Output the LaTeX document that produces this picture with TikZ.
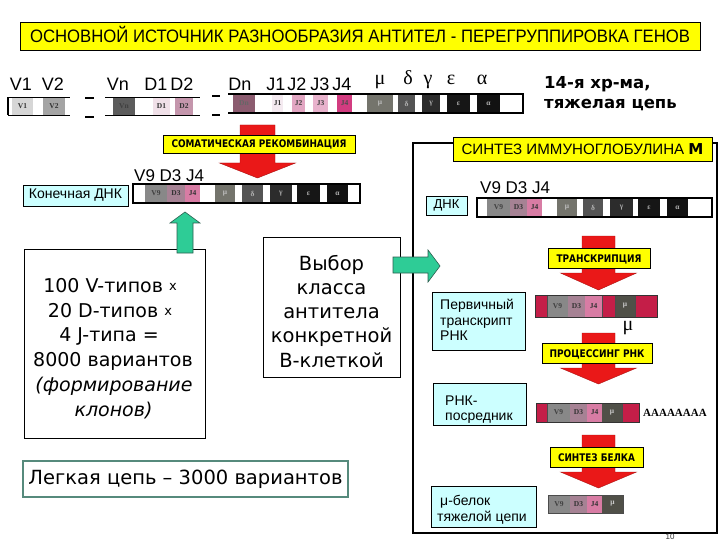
\documentclass[tikz,border=0pt]{standalone}
\usepackage{fontspec}
\usepackage{graphicx}
\setmainfont{Liberation Sans}
\newfontfamily\serifgr{Liberation Serif}
\newfontfamily\dvs{DejaVu Sans}
\definecolor{ylw}{RGB}{255,255,0}
\definecolor{cyanbox}{RGB}{204,255,255}
\definecolor{redar}{RGB}{234,24,24}
\definecolor{rededge}{RGB}{170,16,16}
\definecolor{mint}{RGB}{46,204,150}
\definecolor{mintedge}{RGB}{44,96,80}
\definecolor{crim}{RGB}{196,30,72}
\definecolor{tealb}{RGB}{86,138,124}
\definecolor{cV1}{RGB}{214,214,214}
\definecolor{cV2}{RGB}{164,164,164}
\definecolor{cVn}{RGB}{92,92,92}
\definecolor{cD1}{RGB}{240,224,232}
\definecolor{cD2}{RGB}{196,150,172}
\definecolor{cDn}{RGB}{140,92,112}
\definecolor{cJ1}{RGB}{244,234,240}
\definecolor{cJ2}{RGB}{226,166,194}
\definecolor{cJ3}{RGB}{232,178,204}
\definecolor{cJ4}{RGB}{210,60,128}
\definecolor{cmu}{RGB}{116,116,108}
\definecolor{cdel}{RGB}{84,84,84}
\definecolor{cgam}{RGB}{44,44,44}
\definecolor{ceps}{RGB}{22,22,22}
\definecolor{calp}{RGB}{18,18,18}
\definecolor{cV9}{RGB}{136,136,136}
\definecolor{cD3}{RGB}{166,130,148}
\definecolor{cJ4b}{RGB}{216,124,164}
\definecolor{cmud}{RGB}{80,80,72}
\newcommand\gseg[8]{%
  \fill[#6] (#2,#4) rectangle (#3,#5);
  \node[seglbl,text=#7] (#1) at ({(#2+#3)/2},{(#4+#5)/2}) {#8};}
\newcommand\redarr[6]{%
  \draw[redarrow] (#1-#2,#3) -- (#1+#2,#3) -- (#1+#2,#4) -- (#1+#6,#4)
    -- (#1,#5) -- (#1-#6,#4) -- (#1-#2,#4) -- cycle;}
\begin{document}
\begin{tikzpicture}[x=1pt,y=-1pt,
  every node/.style={inner sep=0pt},
  ybox/.style={draw=black, fill=ylw, line width=0.7pt},
  cbox/.style={draw=black, fill=cyanbox, line width=0.6pt},
  wbox/.style={draw=black, fill=white, line width=0.8pt},
  redarrow/.style={fill=redar, draw=rededge, line width=0.4pt},
  greenarrow/.style={fill=mint, draw=mintedge, line width=0.6pt},
  seglbl/.style={font=\serifgr\bfseries\fontsize{7.5}{7.5}\selectfont},
  stripline/.style={line width=1.1pt, black},
  atbase/.style={anchor=base},
  genelbl/.style={anchor=base, font=\fontsize{18}{18}\selectfont},
  greek/.style={anchor=base, font=\serifgr\fontsize{20}{20}\selectfont},
  bigtxt/.style={anchor=base, font=\dvs\fontsize{19}{19}\selectfont},
  bigit/.style={anchor=base, font=\dvs\itshape\fontsize{19}{19}\selectfont},
  vybtxt/.style={anchor=base, font=\dvs\fontsize{19.5}{19.5}\selectfont},
  midtxt/.style={anchor=base west, font=\fontsize{14}{14}\selectfont},
  boldlbl/.style={anchor=base, font=\dvs\bfseries\fontsize{10.5}{10.5}\selectfont},
]
\fill[white] (0,0) rectangle (720,540);
\useasboundingbox (0,0) rectangle (720,540);

% ---------- title ----------
\node[ybox, minimum width=680pt, minimum height=28pt] (titlebox) at (360,36) {};
\node[atbase] (title) at (360,42.5) {\resizebox{660pt}{\height}{\fontsize{18}{18}\selectfont ОСНОВНОЙ ИСТОЧНИК РАЗНООБРАЗИЯ АНТИТЕЛ - ПЕРЕГРУППИРОВКА ГЕНОВ}};

% ---------- top gene labels ----------
\node[genelbl] (lV1) at (21,91) {V1};
\node[genelbl] (lV2) at (53,91) {V2};
\node[genelbl] (lVn) at (118,91) {Vn};
\node[genelbl] (lD1) at (156,91) {D1};
\node[genelbl] (lD2) at (182,91) {D2};
\node[genelbl] (lDn) at (240,91) {Dn};
\node[genelbl] (lJ1) at (276,91) {J1};
\node[genelbl] (lJ2) at (297,91) {J2};
\node[genelbl] (lJ3) at (320,91) {J3};
\node[genelbl] (lJ4) at (342,91) {J4};
\node[greek] (gmu) at (380,85) {μ};
\node[greek] (gdel) at (408,85) {δ};
\node[greek] (ggam) at (428,85) {γ};
\node[greek] (geps) at (451,85) {ε};
\node[greek] (galp) at (482,85) {α};

% ---------- top strip ----------
\gseg{tV1}{12}{33}{97.5}{115.5}{cV1}{black!80}{V1}
\gseg{tV2}{43}{65}{97.5}{115.5}{cV2}{black!80}{V2}
\draw[stripline] (8,97.5) -- (70,97.5) (8,115.5) -- (70,115.5) (8,97.5) -- (8,115.5);
\draw[stripline] (85,98) -- (94,98) (85,117) -- (94,117);
\gseg{tVn}{113}{135}{97.5}{115.5}{cVn}{black!75}{Vn}
\gseg{tD1}{153}{170}{97.5}{115.5}{cD1}{black!80}{D1}
\gseg{tD2}{175}{193}{97.5}{115.5}{cD2}{black!80}{D2}
\draw[stripline] (105,97.5) -- (200,97.5) (105,115.5) -- (200,115.5);
\draw[stripline] (212,96) -- (220,96) (212,115) -- (220,115);
\gseg{tDn}{233}{255}{94}{113}{cDn}{black!60}{Dn}
\gseg{tJ1}{272}{283}{94}{113}{cJ1}{black!80}{J1}
\gseg{tJ2}{292}{305}{94}{113}{cJ2}{black!75}{J2}
\gseg{tJ3}{313}{328}{94}{113}{cJ3}{black!75}{J3}
\gseg{tJ4}{337}{352}{94}{113}{cJ4}{black!70}{J4}
\gseg{tmu}{367}{393}{94}{113}{cmu}{white!75!black}{μ}
\gseg{tdel}{398}{415}{94}{113}{cdel}{white!70!black}{δ}
\gseg{tgam}{422}{440}{94}{113}{cgam}{white!70!black}{γ}
\gseg{teps}{447}{470}{94}{113}{ceps}{white!70!black}{ε}
\gseg{talp}{477}{500}{94}{113}{calp}{white!70!black}{α}
\draw[stripline] (228,94) -- (523,94) -- (523,113) -- (228,113);

\node[anchor=base west, font=\dvs\bfseries\fontsize{16.5}{16.5}\selectfont] (chr1) at (544,89) {14-я хр-ма,};
\node[anchor=base west, font=\dvs\bfseries\fontsize{16.5}{16.5}\selectfont] (chr2) at (544,109) {тяжелая цепь};

% ---------- somatic recombination ----------
\redarr{257.5}{17.5}{125}{163}{178}{38}
\node[ybox, minimum width=192pt, minimum height=18pt] (somb) at (259,144) {};
\node[boldlbl] (som) at (259,148) {\resizebox{175pt}{\height}{СОМАТИЧЕСКАЯ РЕКОМБИНАЦИЯ}};

% ---------- second strip ----------
\node[anchor=base west, font=\fontsize{17}{17}\selectfont] (lvdj1) at (134,182) {V9 D3 J4};
\gseg{sV9}{145}{167}{184}{203}{cV9}{black!75}{V9}
\gseg{sD3}{167}{185}{184}{203}{cD3}{black!80}{D3}
\gseg{sJ4}{185}{200}{184}{203}{cJ4b}{black!80}{J4}
\gseg{smu}{215}{235}{184}{203}{cmu}{white!75!black}{μ}
\gseg{sdel}{242}{263}{184}{203}{cdel}{white!70!black}{δ}
\gseg{sgam}{270}{292}{184}{203}{cgam}{white!70!black}{γ}
\gseg{seps}{297}{320}{184}{203}{ceps}{white!70!black}{ε}
\gseg{salp}{327}{348}{184}{203}{calp}{white!70!black}{α}
\draw[stripline] (133,184) rectangle (360,203);
\node[cbox, minimum width=105pt, minimum height=21pt, font=\fontsize{14}{14}\selectfont] (kdna) at (75.5,195.5) {Конечная ДНК};

% ---------- left boxes ----------
\node[wbox, minimum width=181pt, minimum height=189pt] (vdjbox) at (114.5,343.5) {};
\node[bigtxt] (v1) at (110,292) {100 V-типов \raisebox{2pt}{\fontsize{13}{13}\selectfont x}};
\node[bigtxt] (v2) at (110,317) {20 D-типов \raisebox{2pt}{\fontsize{13}{13}\selectfont x}};
\node[bigtxt] (v3) at (109,341) {4 J-типа =};
\node[bigtxt] (v4) at (113,366) {8000 вариантов};
\node[bigit] (v5) at (114,391) {(формирование};
\node[bigit] (v6) at (113.5,416) {клонов)};
\draw[greenarrow] (177,253) -- (177,223) -- (170,223) -- (185,212) -- (200,223) -- (193,223) -- (193,253) -- cycle;

\node[wbox, minimum width=137pt, minimum height=140pt] (vybbox) at (331.5,307) {};
\node[vybtxt] (w1) at (331.5,270) {Выбор};
\node[vybtxt] (w2) at (331.5,294.5) {класса};
\node[vybtxt] (w3) at (331.5,318.5) {антитела};
\node[vybtxt] (w4) at (331.5,342.5) {конкретной};
\node[vybtxt] (w5) at (331.5,367) {В-клеткой};

\node[draw=tealb, line width=1.6pt, fill=white, minimum width=325pt, minimum height=36pt, font=\dvs\fontsize{19.5}{19.5}\selectfont] (light) at (185.5,479) {Легкая цепь – 3000 вариантов};

% ---------- right panel ----------
\node[draw, line width=2.5pt, minimum width=304pt, minimum height=390pt] (panel) at (565,338) {};
\draw[greenarrow] (393,257) -- (428,257) -- (428,250) -- (440,266) -- (428,282) -- (428,273) -- (393,273) -- cycle;
\node[ybox, minimum width=259pt, minimum height=24pt] (igmb) at (582.5,149) {};
\node[atbase] (igm) at (582.5,154.5) {\resizebox{242pt}{\height}{\fontsize{15}{15}\selectfont СИНТЕЗ ИММУНОГЛОБУЛИНА {\dvs\bfseries M}}};

\node[anchor=base west, font=\fontsize{17}{17}\selectfont] (lvdj2) at (480,194) {V9 D3 J4};
\node[cbox, minimum width=41pt, minimum height=19pt, font=\fontsize{13}{13}\selectfont] (dna) at (446.5,205.5) {ДНК};
\gseg{dV9}{487}{510}{198}{217}{cV9}{black!75}{V9}
\gseg{dD3}{510}{527}{198}{217}{cD3}{black!80}{D3}
\gseg{dJ4}{527}{542}{198}{217}{cJ4b}{black!80}{J4}
\gseg{dmu}{557}{577}{198}{217}{cmu}{white!75!black}{μ}
\gseg{ddel}{583}{603}{198}{217}{cdel}{white!70!black}{δ}
\gseg{dgam}{610}{633}{198}{217}{cgam}{white!70!black}{γ}
\gseg{deps}{638}{660}{198}{217}{ceps}{white!70!black}{ε}
\gseg{dalp}{667}{688}{198}{217}{calp}{white!70!black}{α}
\draw[stripline] (477,198) rectangle (712,217);

% transcription
\redarr{598.5}{16.5}{236}{273}{290}{38}
\node[ybox, minimum width=102pt, minimum height=20pt] (trb) at (599,258) {};
\node[boldlbl] (tr) at (599,262) {\resizebox{85pt}{\height}{ТРАНСКРИПЦИЯ}};

\node[cbox, minimum width=93pt, minimum height=58pt] (prib) at (478.5,321) {};
\node[midtxt] (pr1) at (440,309) {Первичный};
\node[midtxt] (pr2) at (440,325) {транскрипт};
\node[midtxt] (pr3) at (440,340.5) {РНК};

\fill[crim] (535,295) rectangle (657,317);
\gseg{pV9}{547}{568}{295}{317}{cV9}{black!75}{V9}
\gseg{pD3}{568}{585}{295}{317}{cD3}{black!80}{D3}
\gseg{pJ4}{585}{602}{295}{317}{cJ4b}{black!80}{J4}
\gseg{pmu}{615}{635}{295}{317}{cmud}{white!80!black}{μ}
\draw[black!70, line width=0.5pt] (547,295) -- (547,317) (602,295) -- (602,317) (615,295) -- (615,317) (635,295) -- (635,317);
\draw[black!80, line width=0.9pt] (535,295) rectangle (657,317);
\node[greek] (pmulbl) at (628,330) {μ};

% processing
\redarr{598.5}{16.5}{333}{368}{384}{38}
\node[ybox, minimum width=110pt, minimum height=20pt] (procb) at (597,353) {};
\node[boldlbl] (proc) at (597,357) {\resizebox{95pt}{\height}{ПРОЦЕССИНГ РНК}};

\node[cbox, minimum width=93pt, minimum height=42pt] (mrnab) at (479.5,404) {};
\node[midtxt] (mr1) at (445,405) {РНК-};
\node[midtxt] (mr2) at (445,420) {посредник};

\fill[crim] (536,403) rectangle (639,422);
\gseg{mV9}{547}{570}{403}{422}{cV9}{black!75}{V9}
\gseg{mD3}{570}{587}{403}{422}{cD3}{black!80}{D3}
\gseg{mJ4}{587}{602}{403}{422}{cJ4b}{black!80}{J4}
\gseg{mmu}{602}{622}{403}{422}{cmud}{white!80!black}{μ}
\draw[black!70, line width=0.5pt] (547,403) -- (547,422) (622,403) -- (622,422);
\draw[black!80, line width=0.9pt] (536,403) rectangle (639,422);
\node[anchor=base west, font=\serifgr\bfseries\fontsize{11}{11}\selectfont] (polya) at (643,416.5) {AAAAAAAA};

% protein synthesis
\redarr{598.5}{16.5}{435}{472}{488}{38}
\node[ybox, minimum width=93pt, minimum height=20pt] (synb) at (596.5,457) {};
\node[boldlbl] (syn) at (596.5,461) {\resizebox{77pt}{\height}{СИНТЕЗ БЕЛКА}};

\node[cbox, minimum width=105pt, minimum height=41pt] (protb) at (483.5,506.5) {};
\node[midtxt] (pt1) at (440,505) {μ-белок};
\node[midtxt] (pt2) at (437,521) {тяжелой цепи};

\gseg{qV9}{548}{570}{495}{513}{cV9}{black!75}{V9}
\gseg{qD3}{570}{587}{495}{513}{cD3}{black!80}{D3}
\gseg{qJ4}{587}{602}{495}{513}{cJ4b}{black!80}{J4}
\gseg{qmu}{602}{623}{495}{513}{cmud}{white!80!black}{μ}
\draw[black!70, line width=0.6pt] (548,495) rectangle (623,513);

\node[atbase, font=\fontsize{8}{8}\selectfont, text=black!80] (pg) at (670,539) {10};
\end{tikzpicture}
\end{document}
